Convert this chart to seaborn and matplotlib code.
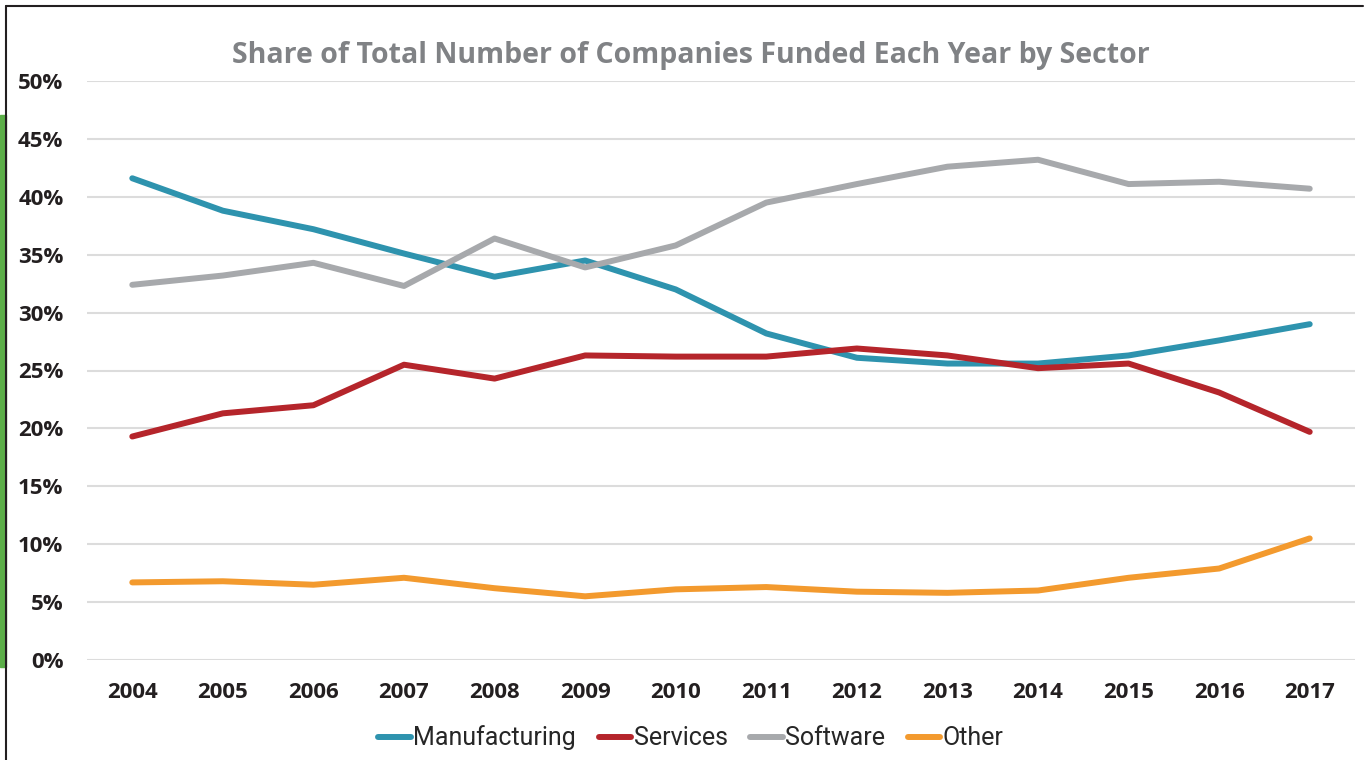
import matplotlib.pyplot as plt
import seaborn as sns
import pandas as pd
from matplotlib.lines import Line2D
from matplotlib.patches import Rectangle
from matplotlib.ticker import PercentFormatter

years = list(range(2004, 2018))
manufacturing = [41.6, 38.8, 37.2, 35.1, 33.1, 34.5, 32.0, 28.2, 26.1, 25.6, 25.6, 26.3, 27.6, 29.0]
services = [19.3, 21.3, 22.0, 25.5, 24.3, 26.3, 26.2, 26.2, 26.9, 26.3, 25.2, 25.6, 23.1, 19.7]
software = [32.4, 33.2, 34.3, 32.3, 36.4, 33.9, 35.8, 39.5, 41.1, 42.6, 43.2, 41.1, 41.3, 40.7]
other = [6.7, 6.8, 6.5, 7.1, 6.2, 5.5, 6.1, 6.3, 5.9, 5.8, 6.0, 7.1, 7.9, 10.5]

sectors = ["Manufacturing", "Services", "Software", "Other"]
colors = ["#2E93AE", "#B5252B", "#A7A9AC", "#F39A2E"]

rows = []
for name, vals in zip(sectors, [manufacturing, services, software, other]):
    for y, v in zip(years, vals):
        rows.append({"Year": y, "Share": v, "Sector": name})
df = pd.DataFrame(rows)

sns.set_style("white")
plt.rcParams["font.family"] = ["Open Sans", "DejaVu Sans"]

fig = plt.figure(figsize=(13.68, 7.6), dpi=100)
ax = fig.add_axes([87 / 1368, 1 - 660 / 760, (1355 - 87) / 1368, (660 - 81) / 760])

sns.lineplot(data=df, x="Year", y="Share", hue="Sector", palette=colors,
             hue_order=sectors, linewidth=4.3, ax=ax, legend=False,
             solid_capstyle="round")

ax.set_ylim(0, 50)
ax.set_xlim(2003.5, 2017.5)
ax.set_yticks(range(0, 51, 5))
ax.set_xticks(years)
ax.yaxis.set_major_formatter(PercentFormatter(decimals=0))
ax.grid(axis="y", color="#DCDCDC", linewidth=1.5)
ax.set_axisbelow(True)
sns.despine(ax=ax, left=True, bottom=True)
ax.tick_params(axis="both", length=0, labelsize=16, colors="#231F20")
ax.tick_params(axis="y", pad=17)
ax.tick_params(axis="x", pad=16)
for lbl in ax.get_xticklabels() + ax.get_yticklabels():
    lbl.set_fontweight("bold")
ax.set_xlabel("")
ax.set_ylabel("")

fig.text(0.505, 1 - 56 / 760, "Share of Total Number of Companies Funded Each Year by Sector",
         ha="center", va="center", fontsize=20.5, fontweight="bold", color="#808285")

handles = [Line2D([0], [0], color=c, linewidth=4.3, solid_capstyle="round") for c in colors]
fig.legend(handles, sectors, loc="center", bbox_to_anchor=(0.505, 1 - 738 / 760),
           ncol=4, frameon=False, handlelength=1.3, handletextpad=0.1, columnspacing=0.9,
           prop={"family": ["Roboto", "DejaVu Sans"], "size": 18})

# frame and green accent bar
fig.add_artist(Line2D([6 / 1368, 1363 / 1368], [1 - 6 / 760, 1 - 6 / 760], color="#231F20", linewidth=1.5))
fig.add_artist(Line2D([6 / 1368, 6 / 1368], [0, 1 - 6 / 760], color="#231F20", linewidth=1.5))
fig.add_artist(Rectangle((0, 1 - 667 / 760), 6 / 1368, (667 - 115) / 760,
                         transform=fig.transFigure, color="#5BAF47"))

fig.savefig("out.png", dpi=100)
